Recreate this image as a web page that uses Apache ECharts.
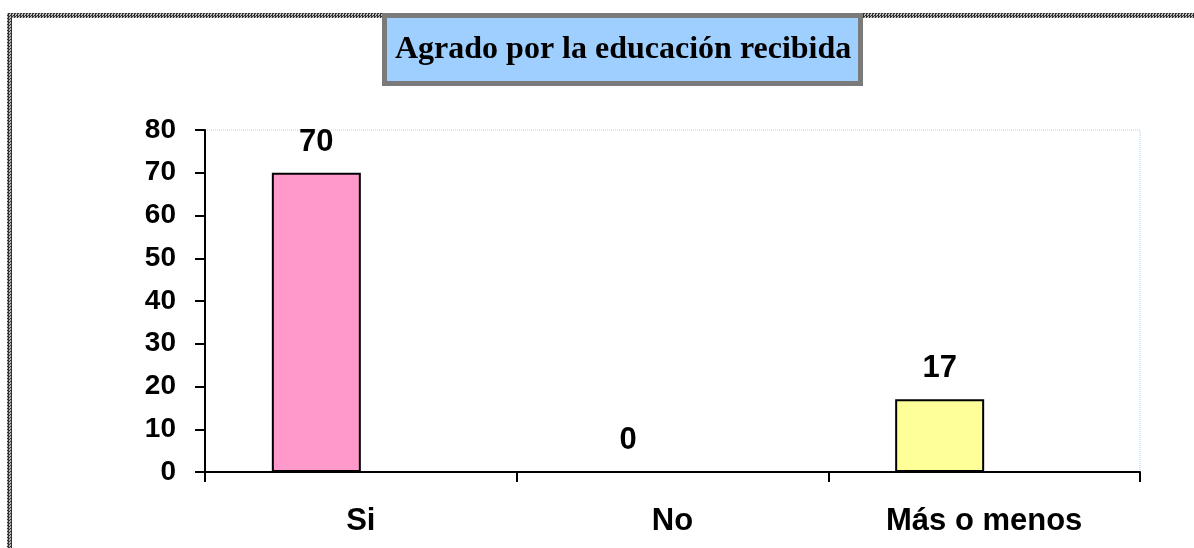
<!DOCTYPE html>
<html>
<head>
<meta charset="utf-8">
<script src="https://cdn.jsdelivr.net/npm/echarts@6/dist/echarts.min.js"></script>
<style>
	html, body { margin: 0; padding: 0; background: #fff; }
	#wrap { position: relative; width: 1194px; height: 548px; overflow: hidden; }
	/* marco punteado gris (arriba e izquierda) */
	.frame { position: absolute; background-color: #9a9a9a;
		background-image: repeating-conic-gradient(#333 0 25%, #bbb 0 50%);
		background-size: 3px 3px; }
	#frameTop { left: 7px; top: 13px; width: 1187px; height: 5px; }
	#frameLeft { left: 7px; top: 13px; width: 5px; height: 535px; }
	#main { position: absolute; left: 0; top: 0; width: 1194px; height: 548px; }
</style>
</head>
<body>
<div id="wrap">
	<div class="frame" id="frameTop"></div>
	<div class="frame" id="frameLeft"></div>
	<div id="main"></div>
</div>
<script>
// datos
var categories = ['Si', 'No', 'Más o menos'];
var values = [70, 0, 17];
var emptySlot = ['-', '-', '-']; // segunda serie vacía (hueco a la derecha de cada barra)
var barColors = ['#FF99CC', '#FFFF99', '#FFFF99'];
var yTicks = { min: 0, max: 80, interval: 10 };

var font = 'Liberation Sans, Arial, sans-serif';

var myChart = echarts.init(document.getElementById('main'));

var option = {
	backgroundColor: 'transparent',
	animation: false,
	title: {
		text: 'Agrado por la educación recibida',
		left: 384,
		top: 15,
		padding: [19, 9, 18, 11],
		backgroundColor: '#9fcfff',
		borderColor: '#7a7a7a',
		borderWidth: 5,
		textStyle: {
			fontFamily: 'Liberation Serif, Times New Roman, serif',
			fontSize: 32,
			fontWeight: 'bold',
			color: '#000'
		}
	},
	grid: { // área del gráfico
		left: 205,
		right: 54,
		top: 130,
		bottom: 76,
		show: true,
		borderColor: '#a6d2ff',
		borderWidth: 1,
		borderType: 'dotted'
	},
	xAxis: {
		type: 'category',
		data: categories,
		axisLine: { lineStyle: { color: '#000', width: 2 } },
		axisTick: { show: true, length: 10, lineStyle: { color: '#000', width: 2 } },
		axisLabel: {
			margin: 34,
			fontFamily: font,
			fontSize: 31,
			fontWeight: 'bold',
			color: '#000'
		}
	},
	yAxis: {
		type: 'value',
		min: yTicks.min,
		max: yTicks.max,
		interval: yTicks.interval,
		axisLine: { show: true, lineStyle: { color: '#000', width: 2 } },
		axisTick: { show: true, length: 10, lineStyle: { color: '#000', width: 2 } },
		splitLine: { show: false },
		axisLabel: {
			margin: 29,
			fontFamily: font,
			fontSize: 28,
			fontWeight: 'bold',
			color: '#000'
		}
	},
	series: [
		{
			name: 'Agrado',
			type: 'bar',
			barWidth: 89,
			barGap: '0%',
			data: values.map(function (v, i) {
				return { value: v, itemStyle: { color: barColors[i] } };
			}),
			itemStyle: { borderColor: '#000', borderWidth: 2 },
			label: {
				show: true,
				position: 'top',
				distance: 15,
				fontFamily: font,
				fontSize: 31,
				fontWeight: 'bold',
				color: '#000'
			}
		},
		{
			name: 'vacío',
			type: 'bar',
			barWidth: 89,
			data: emptySlot
		}
	]
};

myChart.setOption(option);
</script>
</body>
</html>
